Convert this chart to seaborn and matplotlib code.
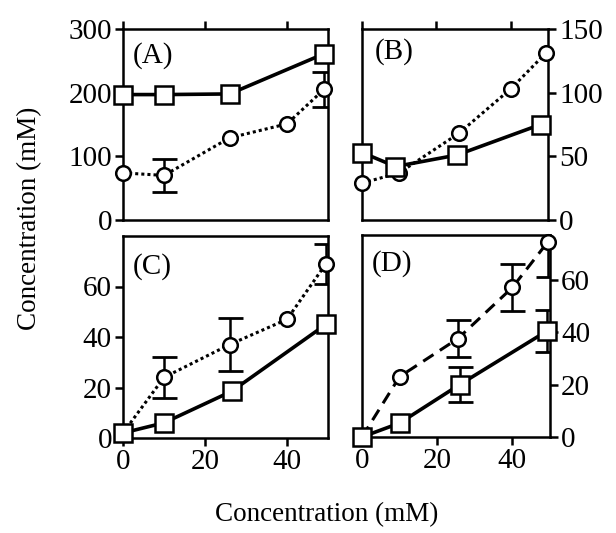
import matplotlib
matplotlib.use("Agg")
import matplotlib.pyplot as plt
import seaborn as sns
import numpy as np

sns.set_style("ticks")
plt.rcParams['font.family'] = ['Liberation Serif', 'DejaVu Serif']
plt.rcParams.update({
    'text.color': 'black', 'axes.labelcolor': 'black', 'axes.edgecolor': 'black',
    'xtick.color': 'black', 'ytick.color': 'black',
})

# ---------------- data ----------------
# Panel A
a_sq_x = [0, 10, 26, 49]
a_sq_y = [197, 197, 198, 261]
a_ci_x = [0, 10, 26, 40, 49]
a_ci_y = [74, 70, 129, 151, 205]
a_ci_err = [0, 26, 0, 0, 28]

# Panel B
b_sq_x = [0, 9, 25.5, 48]
b_sq_y = [53, 42, 51, 75]
b_ci_x = [0, 10, 26, 40, 49.4]
b_ci_y = [29, 37, 68, 103, 131]

# Panel C
c_sq_x = [0, 10, 26.5, 49.5]
c_sq_y = [2, 6, 18.5, 45]
c_ci_x = [0, 10, 26, 40, 49.5]
c_ci_y = [2, 24, 37, 47, 69]
c_ci_err = [0, 8, 10.5, 0, 8]

# Panel D
d_sq_x = [0, 10, 26, 49.3]
d_sq_y = [0, 5.3, 20, 40.5]
d_sq_err = [0, 0, 6.7, 8]
d_ci_x = [0, 10, 25.5, 40, 49.5]
d_ci_y = [0, 23, 37.5, 57, 74.5]
d_ci_err = [0, 0, 7, 9, 13.5]

x_ticks = [0, 20, 40]
a_yticks = [0, 100, 200, 300]
b_yticks = [0, 50, 100, 150]
cd_yticks = [0, 20, 40, 60]
panel_labels = ["(A)", "(B)", "(C)", "(D)"]
axis_label = "Concentration (mM)"

# ---------------- figure ----------------
W, H = 616, 533
fig = plt.figure(figsize=(W / 100, H / 100), dpi=100)

def px_axes(l, r, t, b):
    return fig.add_axes([l / W, 1 - b / H, (r - l) / W, (b - t) / H])

axA = px_axes(123, 328, 29, 220)
axB = px_axes(362, 548, 29, 220)
axC = px_axes(123, 328, 236, 438)
axD = px_axes(362, 550, 235, 437)

TICK_FS = 21
dot = (0, (1, 1))
dash = (0, (4, 2.5))

def errbars(ax, x, y, e):
    x, y, e = np.asarray(x), np.asarray(y), np.asarray(e)
    m = e > 0
    ax.errorbar(x[m], y[m], yerr=e[m], fmt='none', ecolor='k', elinewidth=1.8,
                capsize=9, capthick=2, zorder=2)

def draw(ax, sx, sy, cx, cy, c_ls, c_err=None, s_err=None):
    if c_err is not None:
        errbars(ax, cx, cy, c_err)
    if s_err is not None:
        errbars(ax, sx, sy, s_err)
    sns.lineplot(x=cx, y=cy, ax=ax, color='k', linestyle=c_ls, linewidth=2.2,
                 marker='o', markersize=10.5, markerfacecolor='white',
                 markeredgecolor='k', markeredgewidth=1.8, clip_on=False,
                 zorder=3, estimator=None, sort=False)
    sns.lineplot(x=sx, y=sy, ax=ax, color='k', linestyle='-', linewidth=2.6,
                 marker='s', markersize=13, markerfacecolor='white',
                 markeredgecolor='k', markeredgewidth=1.8, clip_on=False,
                 zorder=4, estimator=None, sort=False)

draw(axA, a_sq_x, a_sq_y, a_ci_x, a_ci_y, dot, c_err=a_ci_err)
draw(axB, b_sq_x, b_sq_y, b_ci_x, b_ci_y, dot)
draw(axC, c_sq_x, c_sq_y, c_ci_x, c_ci_y, dot, c_err=c_ci_err)
draw(axD, d_sq_x, d_sq_y, d_ci_x, d_ci_y, dash, c_err=d_ci_err, s_err=d_sq_err)

limits = {axA: (0, 300), axB: (0, 150), axC: (0, 80), axD: (0, 77)}
yt = {axA: a_yticks, axB: b_yticks, axC: cd_yticks, axD: cd_yticks}

for ax in (axA, axB, axC, axD):
    ax.set_xlim(0, 50)
    ax.set_ylim(*limits[ax])
    ax.set_xticks(x_ticks)
    ax.set_yticks(yt[ax])
    ax.set_xlabel("")
    ax.set_ylabel("")
    for s in ax.spines.values():
        s.set_visible(True)
        s.set_linewidth(1.8)
        s.set_color('black')
    ax.tick_params(direction='out', length=6, width=1.8, labelsize=TICK_FS, pad=2,
                   colors='black')
    ax.set_facecolor('white')

for ax in (axA, axB):
    ax.tick_params(axis='x', bottom=False, labelbottom=False, top=True, labeltop=False)
for ax in (axC, axD):
    ax.tick_params(axis='x', bottom=True, labelbottom=True, top=False)
for ax in (axA, axC):
    ax.tick_params(axis='y', left=True, labelleft=True, right=False, labelright=False)
for ax in (axB, axD):
    ax.tick_params(axis='y', left=False, labelleft=False, right=True, labelright=True)

pos = {axA: (0.05, 0.86), axB: (0.07, 0.88), axC: (0.05, 0.85), axD: (0.05, 0.86)}
for ax, lab in zip((axA, axB, axC, axD), panel_labels):
    ax.text(pos[ax][0], pos[ax][1], lab, transform=ax.transAxes, fontsize=21,
            va='center', ha='left', color='black')

fig.text(0.048, 1 - 218 / H, axis_label, rotation=90, ha='center', va='center',
         fontsize=19.5, color='black')
fig.text(327 / W, 1 - 515 / H, axis_label, ha='center', va='center',
         fontsize=19.5, color='black')

fig.savefig("out.png", dpi=100, facecolor='white')
